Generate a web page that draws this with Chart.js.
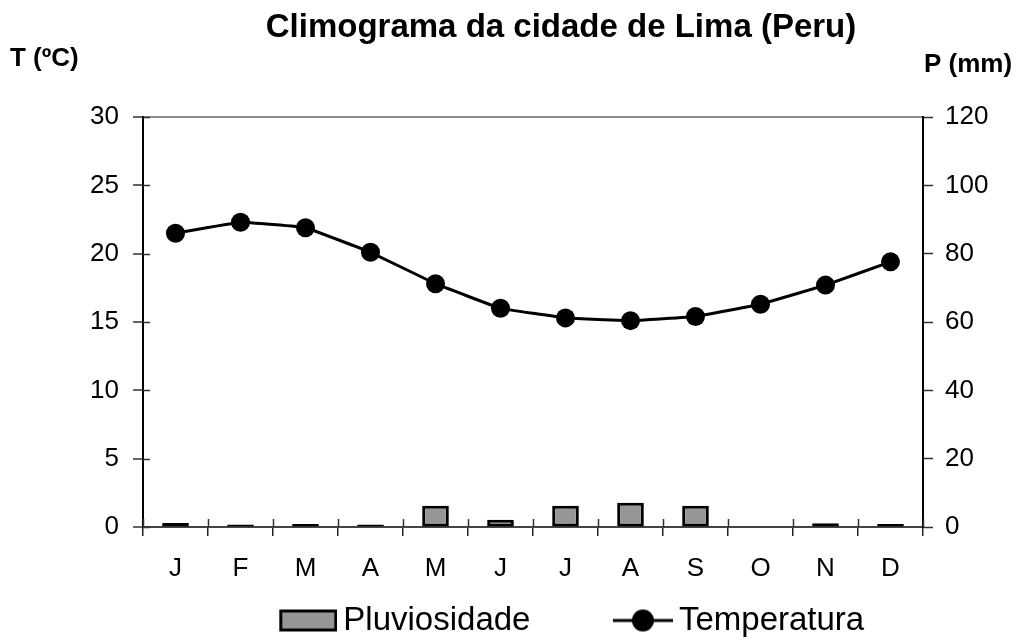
<!DOCTYPE html>
<html lang="pt">
<head>
<meta charset="utf-8">
<title>Climograma da cidade de Lima (Peru)</title>
<script src="https://cdn.jsdelivr.net/npm/chart.js@4.4.1/dist/chart.umd.min.js"></script>
<style>
  html, body { margin: 0; padding: 0; background: #fff; }
  #wrap { width: 1020px; height: 641px; }
</style>
</head>
<body>
<div id="wrap"><canvas id="climaChart" width="1020" height="641"></canvas></div>
<script>
// dados do climograma
const meses = ['J', 'F', 'M', 'A', 'M', 'J', 'J', 'A', 'S', 'O', 'N', 'D'];
const pluviosidade = [1.2, 0.7, 0.9, 0.7, 6.2, 2.1, 6.2, 7.1, 6.2, 0, 1.1, 0.9];
const temperatura = [21.5, 22.3, 21.9, 20.1, 17.8, 16.0, 15.3, 15.1, 15.4, 16.3, 17.7, 19.4];
const ticksTemp = [0, 5, 10, 15, 20, 25, 30];
const ticksPrec = [0, 20, 40, 60, 80, 100, 120];

const titulo = 'Climograma da cidade de Lima (Peru)';
const rotuloT = 'T (ºC)';
const rotuloP = 'P (mm)';
const FONTE = '"Liberation Sans", Arial, sans-serif';

// cria um canvas pequeno para usar como pointStyle
function criarImagem(w, h, desenhar) {
    const c = document.createElement('canvas');
    c.width = w;
    c.height = h;
    desenhar(c.getContext('2d'), w, h);
    return c;
}

// imagens da legenda (conteudo encostado a direita)
const LARG_LEG = 143;
const legendaBarra = criarImagem(LARG_LEG, 24, (ctx, w) => {
    ctx.fillStyle = '#969696';
    ctx.fillRect(w - 58, 1, 58, 22);
    ctx.strokeStyle = '#000';
    ctx.lineWidth = 3;
    ctx.strokeRect(w - 56.5, 2.5, 55, 19);
});
const legendaLinha = criarImagem(LARG_LEG, 24, (ctx, w) => {
    ctx.strokeStyle = '#000';
    ctx.lineWidth = 3;
    ctx.beginPath();
    ctx.moveTo(w - 60, 12);
    ctx.lineTo(w, 12);
    ctx.stroke();
    ctx.fillStyle = '#000';
    ctx.beginPath();
    ctx.arc(w - 30, 12, 11, 0, Math.PI * 2);
    ctx.fill();
});

// titulo, rotulos dos eixos e marcas internas
const textosExtra = {
    id: 'textosExtra',
    afterDraw(chart) {
        const ctx = chart.ctx;
        const area = chart.chartArea;
        ctx.save();
        ctx.fillStyle = '#000';
        ctx.textBaseline = 'alphabetic';
        ctx.font = 'bold 33px ' + FONTE;
        ctx.textAlign = 'center';
        ctx.fillText(titulo, 561, 37);
        ctx.font = 'bold 26px ' + FONTE;
        ctx.textAlign = 'left';
        ctx.fillText(rotuloT, 10, 66);
        ctx.fillText(rotuloP, 924, 72);

        // marcas que cruzam os eixos
        ctx.strokeStyle = '#333';
        ctx.lineWidth = 1.5;
        const sy = chart.scales.y;
        ticksTemp.forEach(v => {
            const py = Math.round(sy.getPixelForValue(v)) + 0.5;
            ctx.beginPath();
            ctx.moveTo(area.left, py);
            ctx.lineTo(area.left + 7, py);
            ctx.stroke();
        });
        const sx = chart.scales.x;
        for (let i = 0; i <= meses.length; i++) {
            const px = Math.round(sx.getPixelForValue(i - 0.5)) + 0.5;
            ctx.beginPath();
            ctx.moveTo(px, area.bottom - 8);
            ctx.lineTo(px, area.bottom);
            ctx.stroke();
        }
        ctx.restore();
    }
};

const fonteEixo = { family: FONTE, size: 26 };

new Chart(document.getElementById('climaChart').getContext('2d'), {
    data: {
        labels: meses,
        datasets: [
            {
                type: 'bar',
                label: 'Pluviosidade',
                data: pluviosidade,
                yAxisID: 'y1',
                backgroundColor: '#969696',
                borderColor: '#000',
                borderWidth: 3,
                borderSkipped: false,
                barPercentage: 0.41,
                categoryPercentage: 1
            },
            {
                type: 'line',
                label: 'Temperatura',
                data: temperatura,
                yAxisID: 'y',
                borderColor: '#000',
                backgroundColor: '#000',
                borderWidth: 3,
                tension: 0.06,
                pointStyle: 'circle',
                pointRadius: 9.5,
                pointBorderWidth: 0
            }
        ]
    },
    options: {
        responsive: false,
        animation: false,
        events: [],
        layout: {
            padding: { left: 49, right: 0, top: 117, bottom: -6 }
        },
        scales: {
            x: {
                type: 'category',
                offset: true,
                grid: {
                    offset: true,
                    drawOnChartArea: false,
                    tickLength: 9,
                    color: '#222',
                    lineWidth: 1.5
                },
                border: { color: '#444', width: 2 },
                ticks: { color: '#000', font: fonteEixo, padding: 17, maxRotation: 0, autoSkip: false },
                afterFit(s) { s.height = 67; }
            },
            y: {
                position: 'left',
                min: 0,
                max: 30,
                afterBuildTicks(s) { s.ticks = ticksTemp.map(v => ({ value: v })); },
                grid: {
                    color: (c) => (c.tick && c.tick.value === 30 ? '#8c8c8c' : 'rgba(0,0,0,0)'),
                    lineWidth: 2,
                    tickColor: '#333',
                    tickWidth: 1.5,
                    tickLength: 10
                },
                border: { color: '#000', width: 2 },
                ticks: { color: '#000', font: fonteEixo, padding: 14 },
                afterFit(s) { s.width = 94; }
            },
            y1: {
                position: 'right',
                min: 0,
                max: 120,
                afterBuildTicks(s) { s.ticks = ticksPrec.map(v => ({ value: v })); },
                grid: {
                    drawOnChartArea: false,
                    tickColor: '#333',
                    tickWidth: 1.5,
                    tickLength: 10
                },
                border: { color: '#000', width: 2 },
                ticks: { color: '#000', font: fonteEixo, padding: 12 },
                afterFit(s) { s.width = 97; }
            }
        },
        plugins: {
            title: { display: false },
            tooltip: { enabled: false },
            legend: {
                display: true,
                position: 'bottom',
                labels: {
                    color: '#000',
                    font: { family: FONTE, size: 33 },
                    usePointStyle: true,
                    pointStyleWidth: 122,
                    padding: 10,
                    generateLabels: () => [
                        { text: 'Pluviosidade', pointStyle: legendaBarra, datasetIndex: 0, hidden: false, lineWidth: 0, fillStyle: 'transparent', strokeStyle: 'transparent' },
                        { text: 'Temperatura', pointStyle: legendaLinha, datasetIndex: 1, hidden: false, lineWidth: 0, fillStyle: 'transparent', strokeStyle: 'transparent' }
                    ]
                }
            }
        }
    },
    plugins: [textosExtra]
});
</script>
</body>
</html>
